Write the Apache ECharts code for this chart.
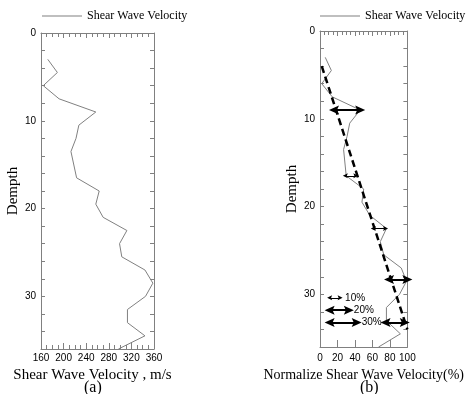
<!DOCTYPE html>
<html>
<head>
<meta charset="utf-8">
<script src="https://cdn.jsdelivr.net/npm/echarts@6/dist/echarts.min.js"></script>
<style>
  html, body { margin: 0; padding: 0; background: #fff; }
  #container { width: 467px; height: 394px; }
</style>
</head>
<body>
<div id="container"></div>
<script>
// depth of each reading (m)
var depths = [3, 4.5, 6, 7.5, 9, 10.5, 12, 13.5, 16.5, 18, 19.5, 21, 22.5, 24, 25.5, 27, 28.5, 30, 31.5, 33, 34.5, 36];
// (a) shear wave velocity, m/s
var velocity = [172, 189, 164, 192, 257, 227, 222, 213, 223, 263, 257, 270, 312, 299, 303, 344, 358, 345, 313, 313, 344, 297];
// (b) normalized shear wave velocity, %
var normalized = [6, 13, 2, 14, 46, 34, 31, 27, 30, 50, 48, 57, 76, 69, 73, 93, 99, 91, 76, 76, 92, 67];
// dashed trend line in (b): [percent, depth]
var trend = [[2, 4], [100, 34]];
// double arrows in (b): [depth, from %, to %]
var thinArrows = [[16.5, 29, 41], [22.5, 61, 75]];
var thickArrows = [[9, 16, 46], [28.3, 79, 100], [33.2, 75, 97]];
// key for the arrows: [depth, from, to, text]
var keyThin = [[30.4, 11, 23, '10%']];
var keyThick = [[31.8, 11, 33, '20%'], [33.2, 11, 42, '30%']];

var NAME = 'Shear Wave Velocity';
var GRAY = '#808080';
var SERIF = '"Liberation Serif", "Times New Roman", serif';
var SANS = '"Liberation Sans", Arial, sans-serif';
// arrow head pointing up, ECharts turns it along the line
var HEAD = 'path://M5,0 L10,10 L5,8 L0,10 Z';

var myChart = echarts.init(document.getElementById('container'));

const pairs = (xs) => xs.map((x, i) => [x, depths[i]]);

const arrowData = (list, withLabel) => list.map(a => [
  { coord: [a[1], a[0]], label: withLabel ? { show: true, formatter: a[3] } : { show: false } },
  { coord: [a[2], a[0]] }
]);

const yAxisFor = (grid, right) => ({
  gridIndex: grid,
  type: 'value',
  min: 0, max: 36, interval: 2,
  inverse: true,
  position: right ? 'right' : 'left',
  axisLine: { show: true, onZero: false, lineStyle: { color: GRAY, width: 1 } },
  axisTick: { inside: true, length: 4, lineStyle: { color: GRAY } },
  splitLine: { show: false },
  axisLabel: {
    show: !right,
    fontFamily: SANS, fontSize: 10, color: '#000', margin: 5,
    formatter: v => (v % 10 === 0 ? String(v) : '')
  },
  name: right ? '' : 'Dempth',
  nameLocation: 'middle',
  nameGap: 17,
  nameRotate: 90,
  nameTextStyle: { fontFamily: SERIF, fontSize: 15, color: '#000' }
});

const arrowSeries = (list, width, size, withLabel) => ({
  type: 'line', xAxisIndex: 2, yAxisIndex: 2, data: [], silent: true,
  markLine: {
    silent: true,
    animation: false,
    symbol: [HEAD, HEAD],
    symbolSize: size,
    lineStyle: { color: '#000', width: width, type: 'solid' },
    itemStyle: { color: '#000' },
    label: { position: 'end', distance: 5, fontFamily: SANS, fontSize: 10, color: '#000' },
    data: arrowData(list, withLabel)
  }
});

const minor = { show: true, splitNumber: 4, length: 4, lineStyle: { color: GRAY } };

const option = {
  backgroundColor: '#fff',
  animation: false,
  legend: [
    { left: 42, top: 10, padding: 0, icon: 'rect', itemWidth: 40, itemHeight: 1, itemGap: 5, data: [NAME],
      textStyle: { fontFamily: SERIF, fontSize: 12, color: '#000' } },
    { left: 320, top: 10, padding: 0, icon: 'rect', itemWidth: 40, itemHeight: 1, itemGap: 5, data: [NAME],
      textStyle: { fontFamily: SERIF, fontSize: 12, color: '#000' } }
  ],
  grid: [
    { left: 41, top: 33, width: 113, height: 316 },
    { left: 320, top: 31, width: 112, height: 316 }
  ],
  xAxis: [
    {
      gridIndex: 0, type: 'value', min: 160, max: 360, interval: 40, position: 'bottom',
      axisLine: { onZero: false, lineStyle: { color: GRAY } },
      axisTick: { inside: true, length: 6, lineStyle: { color: GRAY } },
      minorTick: minor,
      splitLine: { show: false },
      axisLabel: { fontFamily: SANS, fontSize: 10, color: '#000', margin: 4 },
      name: 'Shear Wave Velocity , m/s', nameLocation: 'middle', nameGap: 13,
      nameTextStyle: { fontFamily: SERIF, fontSize: 15, color: '#000', verticalAlign: 'top', padding: [0, 10, 0, 0] }
    },
    {
      gridIndex: 0, type: 'value', min: 160, max: 360, interval: 40, position: 'top',
      axisLine: { onZero: false, lineStyle: { color: GRAY } },
      axisTick: { inside: true, length: 5, lineStyle: { color: GRAY } },
      minorTick: minor,
      splitLine: { show: false },
      axisLabel: { show: false }
    },
    {
      gridIndex: 1, type: 'value', min: 0, max: 100, interval: 20, position: 'bottom',
      axisLine: { onZero: false, lineStyle: { color: GRAY } },
      axisTick: { inside: true, length: 7, lineStyle: { color: GRAY } },
      splitLine: { show: false },
      axisLabel: { fontFamily: SANS, fontSize: 10, color: '#000', margin: 6 },
      name: 'Normalize Shear Wave Velocity(%)', nameLocation: 'middle', nameGap: 17,
      nameTextStyle: { fontFamily: SERIF, fontSize: 14, color: '#000', verticalAlign: 'top' }
    },
    {
      gridIndex: 1, type: 'value', min: 0, max: 100, interval: 20, position: 'top',
      axisLine: { onZero: false, lineStyle: { color: GRAY } },
      axisTick: { inside: true, length: 5, lineStyle: { color: GRAY } },
      minorTick: minor,
      splitLine: { show: false },
      axisLabel: { show: false }
    }
  ],
  yAxis: [yAxisFor(0, false), yAxisFor(0, true), yAxisFor(1, false), yAxisFor(1, true)],
  graphic: [
    { type: 'text', left: 84, top: 380, style: { text: '(a)', font: '16px ' + SERIF, fill: '#000' } },
    { type: 'text', left: 360, top: 380, style: { text: '(b)', font: '16px ' + SERIF, fill: '#000' } }
  ],
  series: [
    {
      name: NAME, type: 'line', xAxisIndex: 0, yAxisIndex: 0,
      data: pairs(velocity), symbol: 'none',
      lineStyle: { color: GRAY, width: 1 }, itemStyle: { color: GRAY }
    },
    {
      name: NAME, type: 'line', xAxisIndex: 2, yAxisIndex: 2,
      data: pairs(normalized), symbol: 'none',
      lineStyle: { color: GRAY, width: 1 }, itemStyle: { color: GRAY }
    },
    {
      name: 'trend', type: 'line', xAxisIndex: 2, yAxisIndex: 2,
      data: trend, symbol: 'none',
      lineStyle: { color: '#000', width: 2.5, type: [7, 4] }
    },
    arrowSeries(thinArrows, 1, [5, 5], false),
    arrowSeries(thickArrows, 2, [9, 10], false),
    arrowSeries(keyThin, 1, [5, 5], true),
    arrowSeries(keyThick, 2, [9, 10], true)
  ]
};

myChart.setOption(option);
</script>
</body>
</html>
